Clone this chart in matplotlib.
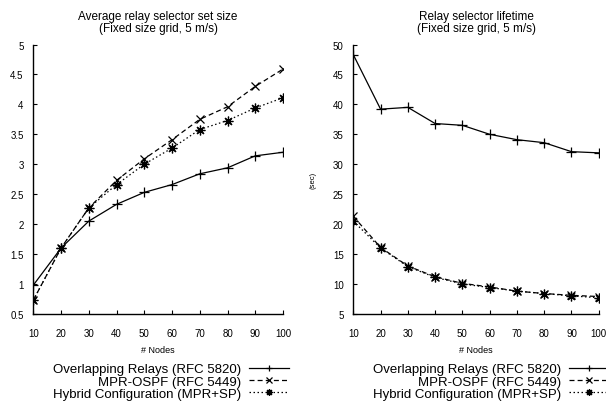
import matplotlib
matplotlib.use("Agg")
import matplotlib.pyplot as plt

plt.rcParams['font.family'] = ['Liberation Sans', 'DejaVu Sans']

# Données
noeuds = [10, 20, 30, 40, 50, 60, 70, 80, 90, 100]

taille_overlap = [0.98, 1.60, 2.05, 2.33, 2.53, 2.66, 2.84, 2.94, 3.14, 3.20]
taille_mpr = [0.73, 1.60, 2.27, 2.73, 3.09, 3.41, 3.75, 3.96, 4.30, 4.59]
taille_hybride = [0.73, 1.60, 2.27, 2.66, 3.00, 3.27, 3.58, 3.73, 3.94, 4.11]

duree_overlap = [48.3, 39.2, 39.5, 36.8, 36.5, 35.0, 34.1, 33.6, 32.1, 31.9]
duree_mpr = [21.3, 16.1, 13.0, 11.2, 10.1, 9.5, 8.8, 8.4, 8.1, 7.9]
duree_hybride = [20.5, 16.0, 12.9, 11.1, 10.0, 9.4, 8.8, 8.4, 8.0, 7.7]

noms = ['Overlapping Relays (RFC 5820)', 'MPR-OSPF (RFC 5449)',
        'Hybrid Configuration (MPR+SP)']

fig = plt.figure(figsize=(6.06, 4.10), dpi=100)
ax1 = fig.add_axes([0.055, 0.232, 0.412, 0.657])
ax2 = fig.add_axes([0.583, 0.232, 0.405, 0.657])

asterisque = (8, 2, 0)


def tracer(ax, a, b, c):
    ax.plot(noeuds, a, color='black', lw=0.9, ls='-', marker='+', ms=7, mew=0.9, label=noms[0])
    ax.plot(noeuds, b, color='black', lw=0.9, ls=(0, (4, 2.5)), marker='x', ms=6, mew=0.9, label=noms[1])
    ax.plot(noeuds, c, color='black', lw=0.9, ls=(0, (1.2, 2)), marker=asterisque, ms=7, mew=0.9, label=noms[2])
    for s in ['top', 'right']:
        ax.spines[s].set_visible(False)
    for s in ['left', 'bottom']:
        ax.spines[s].set_linewidth(1.0)
    ax.set_xlim(10, 100)
    ax.set_xticks(noeuds)
    ax.tick_params(direction='in', length=3, width=0.8, labelsize=7, colors='black')
    ax.tick_params(axis='x', pad=10)
    ax.tick_params(axis='y', pad=7)
    ax.set_xlabel('# Nodes', fontsize=6.5, labelpad=5)


tracer(ax1, taille_overlap, taille_mpr, taille_hybride)
ax1.set_ylim(0.5, 5)
ax1.set_yticks([0.5, 1, 1.5, 2, 2.5, 3, 3.5, 4, 4.5, 5])
ax1.set_yticklabels(['0.5', '1', '1.5', '2', '2.5', '3', '3.5', '4', '4.5', '5'])
ax1.set_title('Average relay selector set size\n(Fixed size grid, 5 m/s)', fontsize=8.5, linespacing=0.95, pad=10)

tracer(ax2, duree_overlap, duree_mpr, duree_hybride)
ax2.set_ylim(5, 50)
ax2.set_yticks(range(5, 51, 5))
ax2.set_ylabel('(sec)', fontsize=5.5, labelpad=12)
ax2.set_title('Relay selector lifetime\n(Fixed size grid, 5 m/s)', fontsize=8.5, linespacing=0.95, pad=10)

for ax, x in [(ax1, 0.477), (ax2, 1.005)]:
    leg = ax.legend(loc='upper right', bbox_to_anchor=(x, 0.112), bbox_transform=fig.transFigure,
                    frameon=False, markerfirst=False, fontsize=9.5, handlelength=3.0,
                    handletextpad=0.6, labelspacing=0.0, borderpad=0, borderaxespad=0,
                    markerscale=0.7)
    for col in leg._legend_handle_box.get_children():
        col.align = 'right'

fig.savefig('out.png', dpi=100)
